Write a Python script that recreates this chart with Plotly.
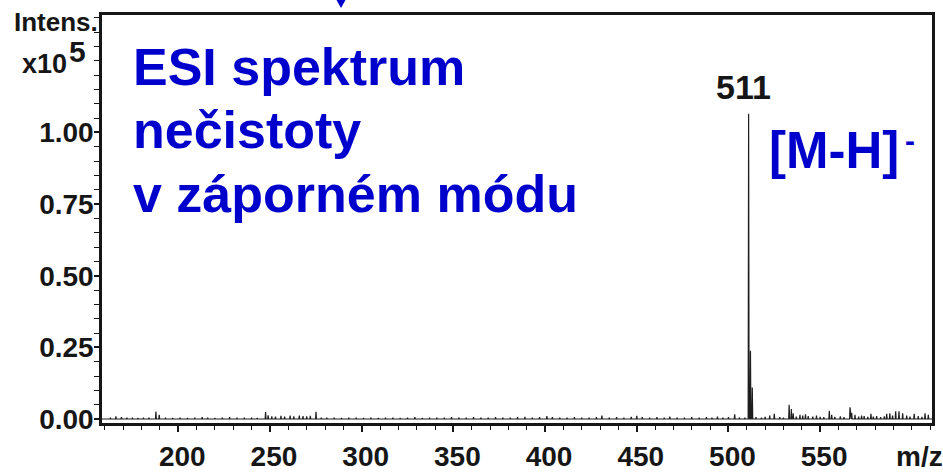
import plotly.graph_objects as go

# ---- spectrum data: m/z and intensity (x10^5 counts) ----
mz = [
    163, 166, 169, 172, 175, 178, 181, 184, 187.8, 189.6,
    193, 197, 201, 205, 209, 213, 216, 220, 224, 228,
    232, 236, 240, 243, 247.6, 249, 251, 253, 256, 258,
    261, 263, 266, 268, 270, 272, 275.1, 278, 281, 285,
    289, 293, 297, 301, 305, 309, 313, 317, 321, 325,
    329, 333, 337, 341, 345, 349, 353, 357, 361, 365,
    369, 373, 377, 381, 385, 389, 393, 397, 401, 404,
    408, 412, 416, 420, 424, 428, 431, 435, 439, 443,
    447, 450, 453, 457, 461, 465, 468, 472, 476, 480,
    484, 488, 491, 494, 497, 500, 503.4, 506, 509, 511,
    512, 513, 515, 518, 520, 522.5, 525, 528, 530, 533.1,
    534.3, 535.3, 537, 539, 540.5, 542, 543.5, 546, 548, 550,
    552, 555, 556.3, 558, 561, 563, 566.3, 567.2, 569, 571,
    572.6, 574, 576, 577.7, 579, 580.8, 583, 585, 586.3, 588,
    589.5, 591.2, 593, 595, 597.2, 599, 601.3, 603.5, 605.5, 607.2,
    609,
]
intensity = [
    0.004, 0.009, 0.006, 0.005, 0.004, 0.003, 0.005, 0.004, 0.026, 0.015,
    0.004, 0.003, 0.004, 0.003, 0.004, 0.006, 0.004, 0.003, 0.005, 0.006,
    0.004, 0.005, 0.004, 0.003, 0.024, 0.013, 0.009, 0.008, 0.011, 0.008,
    0.012, 0.009, 0.012, 0.010, 0.009, 0.011, 0.025, 0.005, 0.004, 0.005,
    0.003, 0.005, 0.004, 0.003, 0.004, 0.003, 0.005, 0.004, 0.003, 0.004,
    0.006, 0.003, 0.004, 0.005, 0.004, 0.006, 0.005, 0.004, 0.006, 0.005,
    0.004, 0.006, 0.005, 0.004, 0.006, 0.007, 0.005, 0.006, 0.010, 0.006,
    0.005, 0.004, 0.006, 0.005, 0.004, 0.006, 0.012, 0.005, 0.006, 0.004,
    0.007, 0.011, 0.006, 0.005, 0.006, 0.004, 0.008, 0.005, 0.004, 0.006,
    0.005, 0.006, 0.004, 0.008, 0.005, 0.006, 0.016, 0.005, 0.004, 1.065,
    0.238, 0.110, 0.006, 0.005, 0.007, 0.012, 0.018, 0.006, 0.005, 0.050,
    0.035, 0.020, 0.008, 0.015, 0.012, 0.016, 0.010, 0.008, 0.012, 0.007,
    0.006, 0.029, 0.015, 0.007, 0.009, 0.006, 0.041, 0.022, 0.015, 0.008,
    0.012, 0.010, 0.007, 0.018, 0.008, 0.010, 0.006, 0.009, 0.018, 0.020,
    0.012, 0.027, 0.027, 0.020, 0.012, 0.008, 0.018, 0.010, 0.007, 0.020,
    0.015,
]

base_peak_mz = 511
base_peak_int = 1.065

x_tick_vals = [200, 250, 300, 350, 400, 450, 500, 550]
y_tick_vals = [0.0, 0.25, 0.50, 0.75, 1.00]
y_tick_text = ["0.00", "0.25", "0.50", "0.75", "1.00"]

X_RANGE = [158.4, 611.0]
Y_RANGE = [-0.014, 1.410]

# ---- page geometry ----
W, H = 943, 472
ML, MR, MT, MB = 102, 11, 15, 49
PW, PH = W - ML - MR, H - MT - MB


def px(xpix):
    """Horizontal page pixel -> paper coordinate."""
    return (xpix - ML) / PW


def py(ypix):
    """Vertical page pixel -> paper coordinate."""
    return (H - MB - ypix) / PH


# ---- profile-like trace: narrow triangles on a flat baseline ----
HALF_W = 0.25
xs, ys = [X_RANGE[0]], [0.0]
for m, h in zip(mz, intensity):
    xs += [m - HALF_W, m, m + HALF_W]
    ys += [0.0, h, 0.0]
xs.append(X_RANGE[1])
ys.append(0.0)

INK = "#161616"
BLUE = "#0000CC"
FONT = "Liberation Sans, Arial, sans-serif"

fig = go.Figure()
fig.add_trace(go.Scatter(
    x=xs, y=ys, mode="lines",
    line=dict(color="#1e1e1e", width=1.2),
    hoverinfo="skip", showlegend=False,
))

fig.update_layout(
    width=W, height=H,
    margin=dict(l=ML, r=MR, t=MT, b=MB, pad=0, autoexpand=False),
    paper_bgcolor="white", plot_bgcolor="white",
    font=dict(family=FONT, color=INK),
    showlegend=False,
)

fig.update_xaxes(
    range=X_RANGE, showgrid=False, zeroline=False, automargin=False,
    showline=True, linecolor=INK, linewidth=2.5, mirror=True,
    tickmode="array", tickvals=x_tick_vals,
    ticks="outside", ticklen=6, tickwidth=1.5, tickcolor=INK,
    tickfont=dict(family=FONT, size=28, color=INK, weight="bold"),
    ticklabelstandoff=1, ticklabelshift=4,
    minor=dict(dtick=10, tick0=0, ticks="outside", ticklen=4,
               tickwidth=1.2, tickcolor=INK, showgrid=False),
)
fig.update_yaxes(
    range=Y_RANGE, showgrid=False, zeroline=False, automargin=False,
    showline=True, linecolor=INK, linewidth=2.5, mirror=True,
    tickmode="array", tickvals=y_tick_vals, ticktext=y_tick_text,
    ticks="outside", ticklen=5, tickwidth=1.5, tickcolor=INK,
    tickfont=dict(family=FONT, size=28, color=INK, weight="bold"),
    ticklabelstandoff=-5,
    minor=dict(dtick=0.05, tick0=0, ticks="outside", ticklen=5,
               tickwidth=1.2, tickcolor=INK, showgrid=False),
)


def bold(color=INK, size=28):
    return dict(family=FONT, size=size, color=color, weight="bold")


annotations = [
    # axis captions
    dict(text="Intens.", x=px(100), y=py(22), xanchor="right", yanchor="middle",
         font=bold(size=26)),
    dict(text="x10", x=px(69), y=py(64), xanchor="right", yanchor="middle",
         font=bold(size=27)),
    dict(text="5", x=px(67), y=py(51), xanchor="left", yanchor="middle",
         font=bold(size=30)),
    dict(text="m/z", x=px(945), y=py(456), xanchor="right", yanchor="middle",
         font=bold(size=28)),
    # title block
    dict(text="ESI spektrum", x=px(131), y=py(66.5), xanchor="left", yanchor="middle",
         font=bold(BLUE, 52)),
    dict(text="nečistoty", x=px(131), y=py(130), xanchor="left", yanchor="middle",
         font=bold(BLUE, 52)),
    dict(text="v záporném módu", x=px(131), y=py(194), xanchor="left", yanchor="middle",
         font=bold(BLUE, 52)),
    # ion label
    dict(text="[M-H]", x=px(767), y=py(150), xanchor="left", yanchor="middle",
         font=bold(BLUE, 51)),
    dict(text="-", x=px(910), y=py(140), xanchor="center", yanchor="middle",
         font=bold(BLUE, 30)),
]
for a in annotations:
    a.update(xref="paper", yref="paper", showarrow=False)
    fig.add_annotation(**a)

# m/z label of the base peak
fig.add_annotation(
    text=str(base_peak_mz), x=base_peak_mz, y=base_peak_int,
    xref="x", yref="y", showarrow=False,
    xanchor="center", yanchor="bottom", xshift=-5, yshift=6,
    font=bold(size=34),
)

# small pointer tip at the top edge
tip = f"M {px(336.5)} {py(0)} L {px(345.5)} {py(0)} L {px(341)} {py(8)} Z"
fig.add_shape(type="path", path=tip, xref="paper", yref="paper",
              fillcolor=BLUE, line=dict(color=BLUE, width=0))

fig.write_html("out.html")
